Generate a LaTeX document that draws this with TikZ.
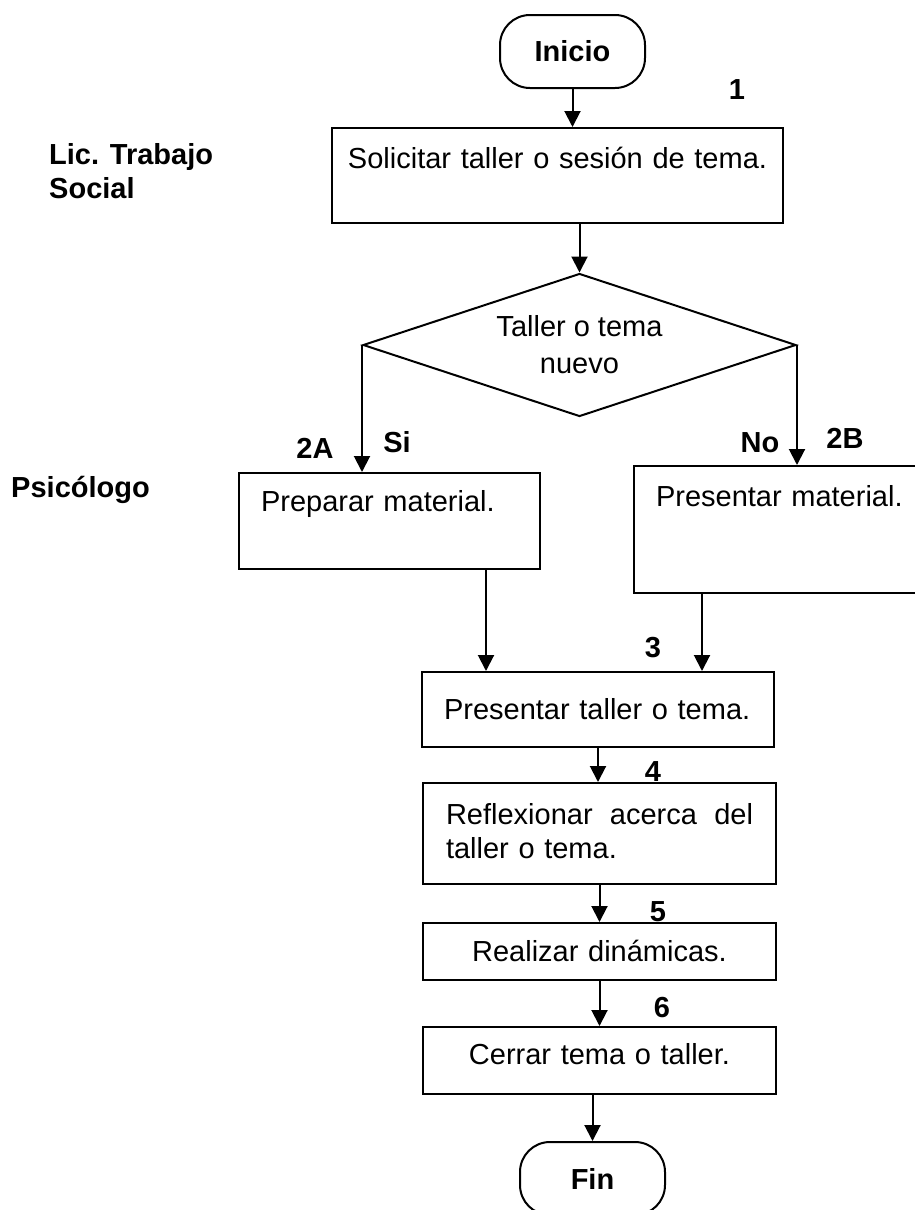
\documentclass[tikz,border=0pt]{standalone}
\usepackage{fontspec}
\setmainfont{Liberation Sans}
\usetikzlibrary{arrows.meta,shapes.geometric}

\begin{document}
\begin{tikzpicture}[
          x=1pt, y=-1pt,
          terminal/.style={draw, line width=2pt, rounded corners=30pt, minimum width=145pt,
            minimum height=73pt, inner sep=0pt, font=\fontsize{29}{34}\selectfont\bfseries},
          paso/.style={draw, line width=2pt, anchor=north west, inner ysep=0pt, inner xsep=22pt,
            align=left, font=\fontsize{29}{34}\selectfont},
          decision/.style={draw, diamond, line width=2pt, minimum width=433pt, minimum height=143pt,
            aspect=3, inner sep=0pt, align=center, font=\fontsize{29}{37}\selectfont},
          etiqueta/.style={inner sep=0pt, font=\fontsize{29}{34}\selectfont\bfseries},
          flecha/.style={line width=2pt, -{Triangle[length=16pt,width=16pt]}}
        ]
        \useasboundingbox (0,0) rectangle (915,1210);

        % responsables
        \node[etiqueta, anchor=north west, align=left] (lts) at (49,143) {Lic. Trabajo\\Social};
        \node[etiqueta, anchor=base east] (psi) at (150,497) {Psicólogo};

        % pasos
        \node[terminal] (inicio) at (572.5,51.5) {Inicio};
        \node[paso, inner xsep=10.5pt, text width=430pt, align=center, text height=40pt, text depth=55pt] (p1) at (331,127)
            {Solicitar taller o sesión de tema.};
        \node[decision] (d2) at (579.5,345) {Taller o tema\\nuevo};
        \node[paso, text width=257pt, text height=38pt, text depth=58pt] (p2a) at (238,472) {Preparar material.};
        \node[paso, text width=253pt, text height=40pt, text depth=87pt] (p2b) at (633,465) {Presentar material.};
        \node[paso, text width=308pt, text height=47pt, text depth=28pt] (p3) at (421,671) {Presentar taller o tema.};
        \node[paso, inner xsep=23pt, text width=307pt, text height=41pt, text depth=60pt] (p4) at (422,782)
            {Reflexionar\hfill acerca\hfill del\\taller o tema.};
        \node[paso, inner xsep=23pt, text width=307pt, align=center, text height=38pt, text depth=19pt] (p5) at (422,922)
            {Realizar dinámicas.};
        \node[paso, inner xsep=23pt, text width=307pt, align=center, text height=37pt, text depth=30pt] (p6) at (422,1026)
            {Cerrar tema o taller.};
        \node[terminal] (fin) at (592.5,1178.5) {Fin};

        % numeros y respuestas
        \node[etiqueta] (n1) at (737,90) {1};
        \node[etiqueta] (n2a) at (315,448) {2A};
        \node[etiqueta] (si) at (397,442) {Si};
        \node[etiqueta] (no) at (760,443) {No};
        \node[etiqueta] (n2b) at (845,438) {2B};
        \node[etiqueta] (n3) at (653,648) {3};
        \node[etiqueta] (n4) at (653,772) {4};
        \node[etiqueta] (n5) at (658,912) {5};
        \node[etiqueta] (n6) at (662,1008) {6};

        \draw[flecha] (inicio) -- (inicio |- p1.north);
        \draw[flecha] (d2.north |- p1.south) -- (d2.north);
        \draw[flecha] (d2.west) -- (d2.west |- p2a.north);
        \draw[flecha] (d2.east) -- (d2.east |- p2b.north);
        \draw[flecha] ([xshift=96.5pt]p2a.south) -- ([xshift=96.5pt]p2a.south |- p3.north);
        \draw[flecha] ([xshift=104pt]p3.north |- p2b.south) -- ([xshift=104pt]p3.north);
        \draw[flecha] (p3.south) -- (p3.south |- p4.north);
        \draw[flecha] (p4.south) -- (p5.north);
        \draw[flecha] (p5.south) -- (p6.north);
        \draw[flecha] (fin.north |- p6.south) -- (fin.north);

        \end{tikzpicture}
\end{document}
